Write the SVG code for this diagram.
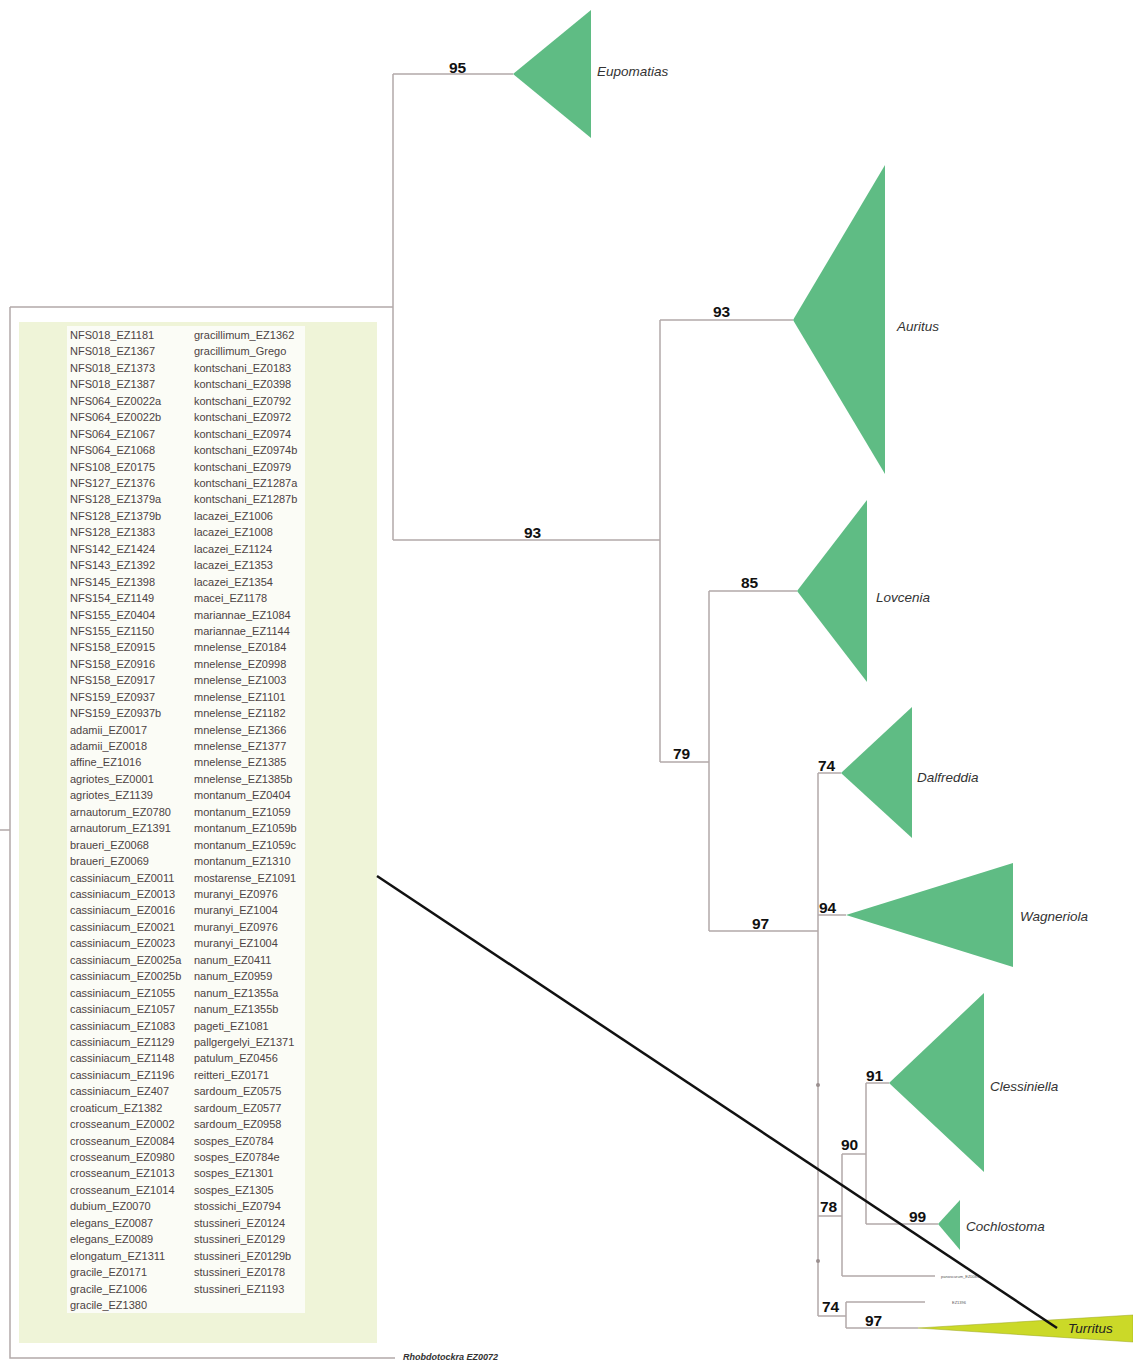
<svg xmlns="http://www.w3.org/2000/svg" width="1133" height="1365" viewBox="0 0 1133 1365">
<style>
.br{fill:none;stroke:#b3a9a9;stroke-width:1.5}
.cl{fill:#5fbc84;stroke:none}
.bs{font-family:"Liberation Sans",Arial,sans-serif;font-weight:bold;font-size:15.5px;fill:#111}
.tx{font-family:"Liberation Sans",Arial,sans-serif;font-style:italic;font-size:13.5px;fill:#333}
.ls{font-family:"Liberation Sans",Arial,sans-serif;font-size:11px;fill:#4d4343}
.tiny{font-family:"Liberation Sans",Arial,sans-serif;font-size:4px;fill:#555}
.rh{font-family:"Liberation Sans",Arial,sans-serif;font-style:italic;font-weight:bold;font-size:9px;fill:#333}
</style>
<rect width="1133" height="1365" fill="#ffffff"/>
<g id="connectors">
<path class="br" d="M0 830H10M10 307V1358H395M10 307H393M393 74V540M393 74H513M393 540H660M660 320V762M660 320H793M660 762H709M709 591V931M709 591H797M709 931H818M818 773V1316M818 773H841M818 915H846M818 1216H842M842 1154V1276M842 1154H866M866 1083V1224M866 1083H889M866 1224H938M842 1276H935M818 1316H846M846 1302V1328M846 1302H925M846 1328H918"/>
<circle cx="818" cy="1085" r="2" fill="#9a8f8f"/>
<circle cx="818" cy="1261" r="2" fill="#9a8f8f"/>
</g>
<g id="list-box">
<rect x="19" y="322" width="358" height="1021" fill="#eff4d8"/>
<rect x="67" y="326" width="238" height="987" fill="#fbfcf6"/>
<g class="ls">
<text x="70" y="339">NFS018_EZ1181</text>
<text x="70" y="355.4">NFS018_EZ1367</text>
<text x="70" y="371.9">NFS018_EZ1373</text>
<text x="70" y="388.3">NFS018_EZ1387</text>
<text x="70" y="404.8">NFS064_EZ0022a</text>
<text x="70" y="421.2">NFS064_EZ0022b</text>
<text x="70" y="437.6">NFS064_EZ1067</text>
<text x="70" y="454.1">NFS064_EZ1068</text>
<text x="70" y="470.5">NFS108_EZ0175</text>
<text x="70" y="487">NFS127_EZ1376</text>
<text x="70" y="503.4">NFS128_EZ1379a</text>
<text x="70" y="519.8">NFS128_EZ1379b</text>
<text x="70" y="536.3">NFS128_EZ1383</text>
<text x="70" y="552.7">NFS142_EZ1424</text>
<text x="70" y="569.2">NFS143_EZ1392</text>
<text x="70" y="585.6">NFS145_EZ1398</text>
<text x="70" y="602">NFS154_EZ1149</text>
<text x="70" y="618.5">NFS155_EZ0404</text>
<text x="70" y="634.9">NFS155_EZ1150</text>
<text x="70" y="651.4">NFS158_EZ0915</text>
<text x="70" y="667.8">NFS158_EZ0916</text>
<text x="70" y="684.2">NFS158_EZ0917</text>
<text x="70" y="700.7">NFS159_EZ0937</text>
<text x="70" y="717.1">NFS159_EZ0937b</text>
<text x="70" y="733.6">adamii_EZ0017</text>
<text x="70" y="750">adamii_EZ0018</text>
<text x="70" y="766.4">affine_EZ1016</text>
<text x="70" y="782.9">agriotes_EZ0001</text>
<text x="70" y="799.3">agriotes_EZ1139</text>
<text x="70" y="815.8">arnautorum_EZ0780</text>
<text x="70" y="832.2">arnautorum_EZ1391</text>
<text x="70" y="848.6">braueri_EZ0068</text>
<text x="70" y="865.1">braueri_EZ0069</text>
<text x="70" y="881.5">cassiniacum_EZ0011</text>
<text x="70" y="898">cassiniacum_EZ0013</text>
<text x="70" y="914.4">cassiniacum_EZ0016</text>
<text x="70" y="930.8">cassiniacum_EZ0021</text>
<text x="70" y="947.3">cassiniacum_EZ0023</text>
<text x="70" y="963.7">cassiniacum_EZ0025a</text>
<text x="70" y="980.2">cassiniacum_EZ0025b</text>
<text x="70" y="996.6">cassiniacum_EZ1055</text>
<text x="70" y="1013">cassiniacum_EZ1057</text>
<text x="70" y="1029.5">cassiniacum_EZ1083</text>
<text x="70" y="1045.9">cassiniacum_EZ1129</text>
<text x="70" y="1062.4">cassiniacum_EZ1148</text>
<text x="70" y="1078.8">cassiniacum_EZ1196</text>
<text x="70" y="1095.2">cassiniacum_EZ407</text>
<text x="70" y="1111.7">croaticum_EZ1382</text>
<text x="70" y="1128.1">crosseanum_EZ0002</text>
<text x="70" y="1144.6">crosseanum_EZ0084</text>
<text x="70" y="1161">crosseanum_EZ0980</text>
<text x="70" y="1177.4">crosseanum_EZ1013</text>
<text x="70" y="1193.9">crosseanum_EZ1014</text>
<text x="70" y="1210.3">dubium_EZ0070</text>
<text x="70" y="1226.8">elegans_EZ0087</text>
<text x="70" y="1243.2">elegans_EZ0089</text>
<text x="70" y="1259.6">elongatum_EZ1311</text>
<text x="70" y="1276.1">gracile_EZ0171</text>
<text x="70" y="1292.5">gracile_EZ1006</text>
<text x="70" y="1309">gracile_EZ1380</text>
<text x="194" y="339">gracillimum_EZ1362</text>
<text x="194" y="355.4">gracillimum_Grego</text>
<text x="194" y="371.9">kontschani_EZ0183</text>
<text x="194" y="388.3">kontschani_EZ0398</text>
<text x="194" y="404.8">kontschani_EZ0792</text>
<text x="194" y="421.2">kontschani_EZ0972</text>
<text x="194" y="437.6">kontschani_EZ0974</text>
<text x="194" y="454.1">kontschani_EZ0974b</text>
<text x="194" y="470.5">kontschani_EZ0979</text>
<text x="194" y="487">kontschani_EZ1287a</text>
<text x="194" y="503.4">kontschani_EZ1287b</text>
<text x="194" y="519.8">lacazei_EZ1006</text>
<text x="194" y="536.3">lacazei_EZ1008</text>
<text x="194" y="552.7">lacazei_EZ1124</text>
<text x="194" y="569.2">lacazei_EZ1353</text>
<text x="194" y="585.6">lacazei_EZ1354</text>
<text x="194" y="602">macei_EZ1178</text>
<text x="194" y="618.5">mariannae_EZ1084</text>
<text x="194" y="634.9">mariannae_EZ1144</text>
<text x="194" y="651.4">mnelense_EZ0184</text>
<text x="194" y="667.8">mnelense_EZ0998</text>
<text x="194" y="684.2">mnelense_EZ1003</text>
<text x="194" y="700.7">mnelense_EZ1101</text>
<text x="194" y="717.1">mnelense_EZ1182</text>
<text x="194" y="733.6">mnelense_EZ1366</text>
<text x="194" y="750">mnelense_EZ1377</text>
<text x="194" y="766.4">mnelense_EZ1385</text>
<text x="194" y="782.9">mnelense_EZ1385b</text>
<text x="194" y="799.3">montanum_EZ0404</text>
<text x="194" y="815.8">montanum_EZ1059</text>
<text x="194" y="832.2">montanum_EZ1059b</text>
<text x="194" y="848.6">montanum_EZ1059c</text>
<text x="194" y="865.1">montanum_EZ1310</text>
<text x="194" y="881.5">mostarense_EZ1091</text>
<text x="194" y="898">muranyi_EZ0976</text>
<text x="194" y="914.4">muranyi_EZ1004</text>
<text x="194" y="930.8">muranyi_EZ0976</text>
<text x="194" y="947.3">muranyi_EZ1004</text>
<text x="194" y="963.7">nanum_EZ0411</text>
<text x="194" y="980.2">nanum_EZ0959</text>
<text x="194" y="996.6">nanum_EZ1355a</text>
<text x="194" y="1013">nanum_EZ1355b</text>
<text x="194" y="1029.5">pageti_EZ1081</text>
<text x="194" y="1045.9">pallgergelyi_EZ1371</text>
<text x="194" y="1062.4">patulum_EZ0456</text>
<text x="194" y="1078.8">reitteri_EZ0171</text>
<text x="194" y="1095.2">sardoum_EZ0575</text>
<text x="194" y="1111.7">sardoum_EZ0577</text>
<text x="194" y="1128.1">sardoum_EZ0958</text>
<text x="194" y="1144.6">sospes_EZ0784</text>
<text x="194" y="1161">sospes_EZ0784e</text>
<text x="194" y="1177.4">sospes_EZ1301</text>
<text x="194" y="1193.9">sospes_EZ1305</text>
<text x="194" y="1210.3">stossichi_EZ0794</text>
<text x="194" y="1226.8">stussineri_EZ0124</text>
<text x="194" y="1243.2">stussineri_EZ0129</text>
<text x="194" y="1259.6">stussineri_EZ0129b</text>
<text x="194" y="1276.1">stussineri_EZ0178</text>
<text x="194" y="1292.5">stussineri_EZ1193</text>
</g>
</g>
<g id="eupomatias"><polygon class="cl" points="513,74 591,10 591,138"/><text class="tx" x="597" y="76">Eupomatias</text><text class="bs" x="449" y="73">95</text></g>
<g id="auritus"><polygon class="cl" points="793,320 885,165 885,474"/><text class="tx" x="897" y="331">Auritus</text><text class="bs" x="713" y="317">93</text></g>
<g id="node-93"><text class="bs" x="524" y="538">93</text></g>
<g id="node-79"><text class="bs" x="673" y="759">79</text></g>
<g id="lovcenia"><polygon class="cl" points="797,591 867,500 867,682"/><text class="tx" x="876" y="602">Lovcenia</text><text class="bs" x="741" y="588">85</text></g>
<g id="node-97"><text class="bs" x="752" y="929">97</text></g>
<g id="dalfreddia"><polygon class="cl" points="841,773 912,707 912,838"/><text class="tx" x="917" y="782">Dalfreddia</text><text class="bs" x="818" y="771">74</text></g>
<g id="wagneriola"><polygon class="cl" points="846,915 1013,863 1013,967"/><text class="tx" x="1020" y="921">Wagneriola</text><text class="bs" x="819" y="913">94</text></g>
<g id="clessiniella"><polygon class="cl" points="889,1083 984,993 984,1172"/><text class="tx" x="990" y="1091">Clessiniella</text><text class="bs" x="866" y="1081">91</text></g>
<g id="node-90"><text class="bs" x="841" y="1150">90</text></g>
<g id="node-78"><text class="bs" x="820" y="1212">78</text></g>
<g id="cochlostoma"><polygon class="cl" points="938,1224 960,1200 960,1250"/><text class="tx" x="966" y="1231">Cochlostoma</text><text class="bs" x="909" y="1222">99</text></g>
<g id="leaf-ez0083"><text class="tiny" x="941" y="1278">panoscurum_EZ0083</text></g>
<g id="node-74b"><text class="bs" x="822" y="1312">74</text></g>
<g id="leaf-ez1396"><text class="tiny" x="952" y="1304">EZ1396</text></g>
<g id="turritus"><polygon points="918,1328 1133,1315 1133,1342" fill="#cbd928" stroke="#9aa520" stroke-width="0.5"/><text class="tx" x="1068" y="1333" style="fill:#222">Turritus</text><text class="bs" x="865" y="1326">97</text></g>
<g id="rhobdotockra"><text class="rh" x="403" y="1360">Rhobdotockra EZ0072</text></g>
<g id="pointer"><line x1="377" y1="876" x2="1057" y2="1328" stroke="#111" stroke-width="2.5"/></g>
</svg>
